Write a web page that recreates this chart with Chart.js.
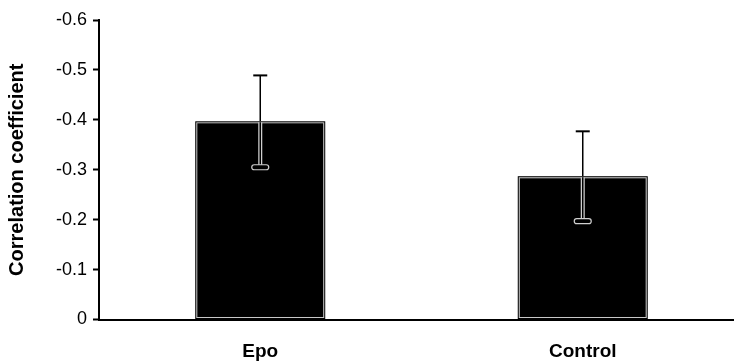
<!DOCTYPE html>
<html>
<head>
<meta charset="utf-8">
<script src="https://cdn.jsdelivr.net/npm/chart.js@4/dist/chart.umd.min.js"></script>
<style>
  html, body { margin: 0; padding: 0; background: #fff; overflow: hidden; }
  canvas { display: block; }
</style>
</head>
<body>
<canvas id="c" width="744" height="364"></canvas>
<script>
const categories = ['Epo', 'Control'];
const meanValues = [-0.397, -0.287];
const errorValues = [0.092, 0.090];
const yTicks = [0, -0.1, -0.2, -0.3, -0.4, -0.5, -0.6];

const FONT = '"Liberation Sans", Arial, Helvetica, sans-serif';

const barOutline = {
  id: 'barOutline',
  afterDatasetsDraw(chart) {
    const ctx = chart.ctx;
    const meta = chart.getDatasetMeta(0);
    const yScale = chart.scales.y;
    ctx.save();
    meta.data.forEach((bar, i) => {
      const p = bar.getProps(['x', 'y', 'base', 'width'], true);
      const left = p.x - p.width / 2;
      const top = Math.min(p.y, p.base);
      const h = Math.abs(p.base - p.y);
      // thin black outer edge
      ctx.strokeStyle = '#000';
      ctx.lineWidth = 1;
      ctx.strokeRect(left + 0.5, top + 0.5, p.width - 1, h - 1);

      // error bars
      const v = meanValues[i];
      const e = errorValues[i];
      const yUp = yScale.getPixelForValue(v - e);
      const yDown = yScale.getPixelForValue(v + e);
      const x = p.x;
      // upper whisker (outside bar)
      ctx.strokeStyle = '#000';
      ctx.lineWidth = 1.5;
      ctx.beginPath();
      ctx.moveTo(x, p.y);
      ctx.lineTo(x, yUp);
      ctx.stroke();
      ctx.lineWidth = 2;
      ctx.beginPath();
      ctx.moveTo(x - 7, yUp);
      ctx.lineTo(x + 7, yUp);
      ctx.stroke();
      // lower whisker (inside bar) drawn light on dark
      ctx.strokeStyle = '#d0d0d0';
      ctx.lineWidth = 4;
      ctx.beginPath();
      ctx.moveTo(x, p.y + 1);
      ctx.lineTo(x, yDown - 2);
      ctx.stroke();
      ctx.strokeStyle = '#000';
      ctx.lineWidth = 1.5;
      ctx.beginPath();
      ctx.moveTo(x, p.y + 1);
      ctx.lineTo(x, yDown - 2);
      ctx.stroke();
      // pill-shaped cap
      ctx.beginPath();
      ctx.roundRect(x - 8.5, yDown - 2.5, 17, 5, 2.5);
      ctx.fillStyle = '#000';
      ctx.fill();
      ctx.strokeStyle = '#d0d0d0';
      ctx.lineWidth = 1.2;
      ctx.stroke();
    });
    ctx.restore();
  }
};

new Chart(document.getElementById('c'), {
  type: 'bar',
  data: {
    labels: categories,
    datasets: [{
      data: meanValues,
      backgroundColor: '#000',
      borderColor: '#c8c8c8',
      borderWidth: 2,
      borderSkipped: false,
      barPercentage: 0.403,
      categoryPercentage: 1
    }]
  },
  options: {
    responsive: false,
    animation: false,
    devicePixelRatio: 1,
    layout: { padding: { top: 20, right: 0, bottom: 0, left: 0 } },
    plugins: {
      legend: { display: false },
      tooltip: { enabled: false }
    },
    scales: {
      x: {
        afterFit(scale) { scale.height = 44.5; },
        grid: { display: true, drawOnChartArea: false, drawTicks: false },
        border: { display: true, color: '#000', width: 2 },
        ticks: {
          color: '#000',
          padding: 21,
          font: { family: FONT, size: 19, weight: 'bold' }
        }
      },
      y: {
        min: -0.6,
        max: 0,
        reverse: true,
        afterFit(scale) { scale.width = 99; },
        afterBuildTicks(scale) { scale.ticks = yTicks.map(v => ({ value: v })); },
        grid: { display: true, drawOnChartArea: false, drawTicks: true, tickLength: 6, tickWidth: 2, tickColor: '#000' },
        border: { display: true, color: '#000', width: 2 },
        title: {
          display: true,
          text: 'Correlation coefficient',
          color: '#000',
          padding: { top: 5.5, bottom: 0 },
          font: { family: FONT, size: 20, weight: 'bold' }
        },
        ticks: {
          color: '#000',
          padding: 6,
          font: { family: FONT, size: 18 },
          callback: (v) => Math.abs(v) < 1e-9 ? '0' : Number(v).toFixed(1)
        }
      }
    }
  },
  plugins: [barOutline]
});
</script>
</body>
</html>
